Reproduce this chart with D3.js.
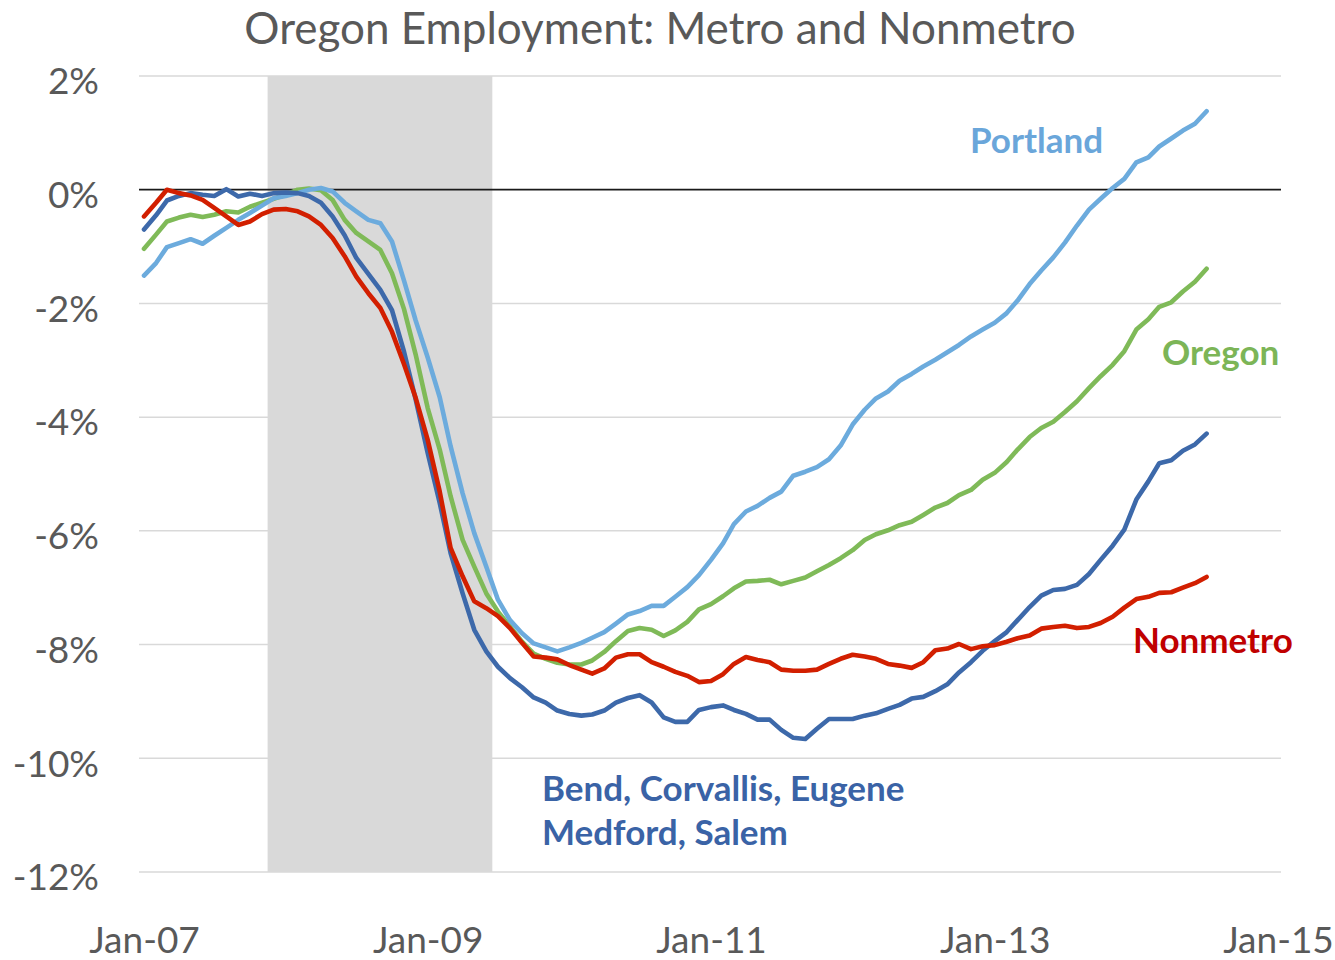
<!DOCTYPE html>
<html>
<head>
<meta charset="utf-8">
<script src="https://cdn.jsdelivr.net/npm/d3@7"></script>
<style>
  body { margin: 0; background: #fff; }
  svg { display: block; font-family: Lato, "Open Sans", sans-serif; }
  .tick text { fill: #595959; }
</style>
</head>
<body>
<div class="container"></div>
<script>
// monthly points, Jan-07 .. Jul-14
const months = d3.timeMonth.range(new Date(2007, 0, 1), new Date(2014, 7, 1))

// % change in employment from the pre-recession peak
const portland = [
  -1.51, -1.29, -1.01, -0.94, -0.87, -0.95, -0.81, -0.67, -0.53, -0.41, -0.28, -0.15,
  -0.11, -0.06, 0.00, 0.03, -0.03, -0.23, -0.38, -0.53, -0.59, -0.91, -1.60, -2.30,
  -2.95, -3.65, -4.51, -5.34, -6.04, -6.63, -7.21, -7.57, -7.80, -7.98, -8.05, -8.12,
  -8.05, -7.97, -7.88, -7.78, -7.63, -7.47, -7.41, -7.32, -7.32, -7.16, -6.99, -6.78,
  -6.51, -6.22, -5.88, -5.66, -5.56, -5.42, -5.31, -5.03, -4.96, -4.88, -4.74, -4.50,
  -4.13, -3.87, -3.67, -3.55, -3.36, -3.24, -3.11, -2.99, -2.86, -2.73, -2.58, -2.46,
  -2.34, -2.17, -1.95, -1.66, -1.42, -1.19, -0.93, -0.63, -0.35, -0.16, 0.03, 0.19,
  0.48, 0.57, 0.76, 0.90, 1.04, 1.16, 1.38
]
const oregon = [
  -1.04, -0.79, -0.56, -0.49, -0.44, -0.48, -0.44, -0.38, -0.40, -0.30, -0.23, -0.16,
  -0.09, 0.00, 0.02, -0.01, -0.18, -0.53, -0.76, -0.91, -1.06, -1.47, -2.10, -2.90,
  -3.84, -4.57, -5.39, -6.16, -6.63, -7.10, -7.42, -7.68, -7.95, -8.16, -8.25, -8.32,
  -8.35, -8.35, -8.28, -8.13, -7.94, -7.76, -7.71, -7.74, -7.85, -7.75, -7.60, -7.38,
  -7.29, -7.15, -7.01, -6.89, -6.88, -6.86, -6.94, -6.88, -6.82, -6.71, -6.60, -6.48,
  -6.34, -6.16, -6.06, -5.99, -5.90, -5.84, -5.72, -5.59, -5.51, -5.37, -5.28, -5.10,
  -4.98, -4.79, -4.57, -4.35, -4.19, -4.08, -3.91, -3.72, -3.49, -3.28, -3.08, -2.84,
  -2.46, -2.28, -2.06, -1.98, -1.79, -1.62, -1.39
]
const bendMetros = [
  -0.70, -0.45, -0.19, -0.11, -0.06, -0.09, -0.11, 0.01, -0.12, -0.07, -0.11, -0.06,
  -0.05, -0.06, -0.11, -0.23, -0.47, -0.80, -1.20, -1.48, -1.76, -2.12, -2.85, -3.69,
  -4.63, -5.51, -6.39, -7.10, -7.74, -8.12, -8.39, -8.59, -8.75, -8.93, -9.02, -9.16,
  -9.22, -9.25, -9.23, -9.16, -9.02, -8.94, -8.89, -9.02, -9.28, -9.36, -9.36, -9.15,
  -9.10, -9.07, -9.15, -9.22, -9.32, -9.32, -9.50, -9.64, -9.66, -9.48, -9.31, -9.31,
  -9.31, -9.25, -9.21, -9.13, -9.06, -8.95, -8.92, -8.82, -8.70, -8.49, -8.31, -8.11,
  -7.94, -7.78, -7.57, -7.34, -7.14, -7.04, -7.02, -6.95, -6.76, -6.51, -6.26, -5.98,
  -5.45, -5.13, -4.81, -4.76, -4.59, -4.48, -4.29
]
const nonmetro = [
  -0.47, -0.23, 0.00, -0.06, -0.10, -0.18, -0.32, -0.47, -0.62, -0.56, -0.43, -0.35,
  -0.34, -0.38, -0.47, -0.62, -0.85, -1.17, -1.53, -1.82, -2.08, -2.50, -3.07, -3.66,
  -4.40, -5.31, -6.30, -6.80, -7.24, -7.36, -7.50, -7.71, -7.97, -8.21, -8.23, -8.26,
  -8.36, -8.44, -8.51, -8.42, -8.23, -8.17, -8.17, -8.31, -8.39, -8.48, -8.55, -8.66,
  -8.64, -8.52, -8.34, -8.22, -8.27, -8.31, -8.44, -8.46, -8.46, -8.44, -8.34, -8.25,
  -8.18, -8.21, -8.25, -8.34, -8.37, -8.41, -8.31, -8.10, -8.07, -7.99, -8.08, -8.03,
  -8.01, -7.95, -7.89, -7.84, -7.72, -7.69, -7.67, -7.71, -7.69, -7.62, -7.51, -7.35,
  -7.20, -7.16, -7.09, -7.08, -7.00, -6.92, -6.81
]

// recession months (Dec-07 .. Jun-09)
const recession = [new Date(2007, 11, 1), new Date(2009, 5, 1)]

// axis ticks
const xTicks = [2007, 2009, 2011, 2013, 2015].map(y => new Date(y, 0, 1))
const yTicks = [2, 0, -2, -4, -6, -8, -10, -12]

const w = 1335
const h = 960
const plot = { left: 139, right: 1281, top: 76, bottom: 872 }

const xScale = d3.scaleTime()
  .domain([new Date(2007, 0, 1), new Date(2015, 0, 1)])
  .range([144, 1278])

const yScale = d3.scaleLinear()
  .domain([-12, 2])
  .range([plot.bottom, plot.top])

const svg = d3.select(".container")
  .append("svg")
  .attr("width", w)
  .attr("height", h)

// recession shading, half a month either side of the first and last month
const halfMonth = (xScale(new Date(2007, 1, 1)) - xScale(new Date(2007, 0, 1))) / 2
svg.append("rect")
  .attr("x", xScale(recession[0]) - halfMonth)
  .attr("y", yScale(2))
  .attr("width", xScale(recession[1]) - xScale(recession[0]) + 2 * halfMonth)
  .attr("height", yScale(-12) - yScale(2))
  .attr("fill", "#d9d9d9")

// gridlines
svg.append("g")
  .selectAll("line")
  .data(yTicks.filter(d => d !== 0))
  .enter()
  .append("line")
  .attr("x1", plot.left)
  .attr("x2", plot.right)
  .attr("y1", d => yScale(d))
  .attr("y2", d => yScale(d))
  .attr("stroke", "#d9d9d9")
  .attr("stroke-width", 1.5)

// y axis labels
const yAxis = d3.axisLeft(yScale)
  .tickValues(yTicks)
  .tickFormat(d => d + "%")
  .tickSize(0)
  .tickPadding(0)

svg.append("g")
  .attr("transform", "translate(99,6)")
  .call(yAxis)
  .call(g => g.select(".domain").remove())
  .selectAll("text")
  .style("font-size", "37px")
  .style("font-family", "Lato, sans-serif")

// x axis labels at the bottom
const xAxis = d3.axisBottom(xScale)
  .tickValues(xTicks)
  .tickFormat(d3.timeFormat("%b-%y"))
  .tickSize(0)
  .tickPadding(0)

svg.append("g")
  .attr("transform", "translate(0,927)")
  .call(xAxis)
  .call(g => g.select(".domain").remove())
  .selectAll("text")
  .style("font-size", "37px")
  .style("font-family", "Lato, sans-serif")

// zero line
svg.append("line")
  .attr("x1", plot.left)
  .attr("x2", plot.right)
  .attr("y1", yScale(0))
  .attr("y2", yScale(0))
  .attr("stroke", "#1a1a1a")
  .attr("stroke-width", 1.8)

const series = [
  { name: "Oregon", values: oregon, color: "#7fba58" },
  { name: "Portland", values: portland, color: "#6cabdd" },
  { name: "Bend", values: bendMetros, color: "#3d69aa" },
  { name: "Nonmetro", values: nonmetro, color: "#d21f00" }
]

const line = d3.line()
  .x((d, i) => xScale(months[i]))
  .y(d => yScale(d))

svg.selectAll("path.series")
  .data(series)
  .enter()
  .append("path")
  .attr("class", "series")
  .attr("d", d => line(d.values))
  .attr("fill", "none")
  .attr("stroke", d => d.color)
  .attr("stroke-width", 4.6)
  .attr("stroke-linejoin", "round")
  .attr("stroke-linecap", "round")

// title
svg.append("text")
  .attr("x", 660)
  .attr("y", 44)
  .style("text-anchor", "middle")
  .style("font-size", "44px")
  .style("fill", "#595959")
  .text("Oregon Employment: Metro and Nonmetro")

// series labels
const labels = [
  { text: "Portland", x: 970, y: 153, color: "#6aa6da" },
  { text: "Oregon", x: 1162, y: 365, color: "#7cb557" },
  { text: "Nonmetro", x: 1133, y: 653, color: "#c00000" },
  { text: "Bend, Corvallis, Eugene", x: 542, y: 801, color: "#3a63a6" },
  { text: "Medford, Salem", x: 542, y: 845, color: "#3a63a6" }
]

svg.selectAll("text.label")
  .data(labels)
  .enter()
  .append("text")
  .attr("class", "label")
  .attr("x", d => d.x)
  .attr("y", d => d.y)
  .style("font-size", "35px")
  .style("font-weight", "bold")
  .style("fill", d => d.color)
  .text(d => d.text)
</script>
</body>
</html>
